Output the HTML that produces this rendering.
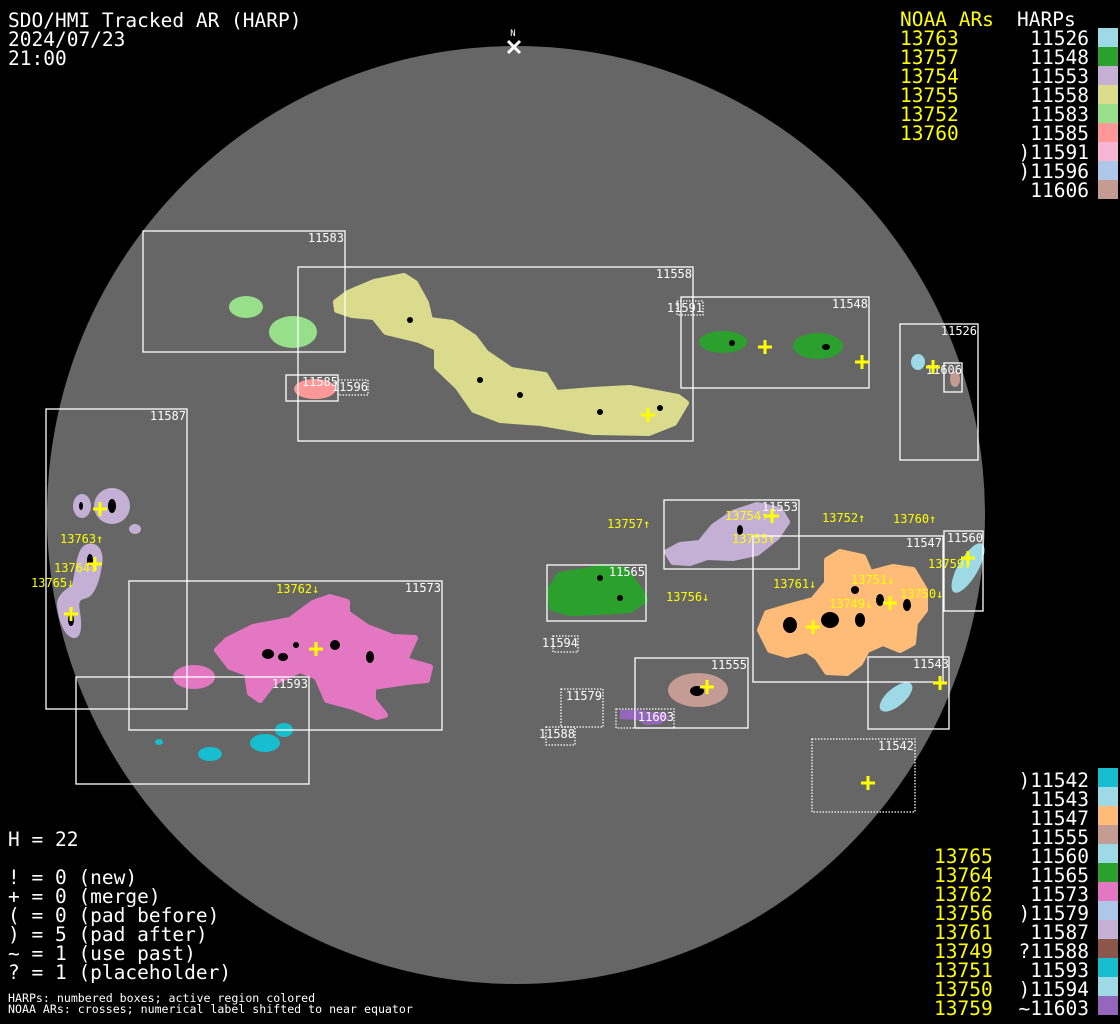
<!DOCTYPE html>
<html><head><meta charset="utf-8"><style>
html,body{margin:0;padding:0;background:#000;width:1120px;height:1024px;overflow:hidden}
svg{display:block}
.b{font-family:"DejaVu Sans Mono","Liberation Mono",monospace;font-size:19.5px;fill:#fff}
.y{fill:#ffff00}
.s{font-family:"DejaVu Sans Mono","Liberation Mono",monospace;font-size:12px;fill:#fff}
.sy{font-family:"DejaVu Sans Mono","Liberation Mono",monospace;font-size:12px;fill:#ffff00}
.n{font-family:"DejaVu Sans Mono","Liberation Mono",monospace;font-size:11.6px;fill:#fff}
.bx{fill:none;stroke:#fff;stroke-width:1.3}
.dt{fill:none;stroke:#fff;stroke-width:1.3;stroke-dasharray:1.5 1.5}
.cr{stroke:#ffff00;stroke-width:3;fill:none}
.r{stroke-width:6;stroke-linejoin:round}
</style></head><body>
<svg width="1120" height="1024" viewBox="0 0 1120 1024" xmlns="http://www.w3.org/2000/svg">
<rect width="1120" height="1024" fill="#000"/>
<circle cx="516" cy="515" r="469" fill="#666"/>

<g>
<ellipse cx="246" cy="307" rx="17" ry="11" fill="#98df8a"/>
<ellipse cx="293" cy="332" rx="24" ry="16" fill="#98df8a"/>
<path class="r" fill="#dbdb8d" stroke="#dbdb8d" d="M336,302 L348,293 L374,282 L404,276 L415,283 L426,303 L430,320 L452,323 L474,337 L486,353 L511,370 L545,375 L556,393 L593,390 L630,388 L678,397 L686,403 L674,423 L649,433 L593,432 L541,423 L500,420 L474,410 L458,387 L437,367 L437,348 L419,340 L386,332 L374,317 L352,315 L337,310 Z"/>
<ellipse cx="315" cy="389" rx="21" ry="10" fill="#ff9896"/>
<ellipse cx="723" cy="342" rx="24" ry="11" fill="#2ca02c"/>
<ellipse cx="818" cy="346" rx="25" ry="13" fill="#2ca02c"/>
<ellipse cx="918" cy="362" rx="7" ry="8" fill="#9edae5"/>
<ellipse cx="955" cy="379" rx="5" ry="8" fill="#c49c94"/>
<ellipse cx="82" cy="506" rx="9" ry="12" fill="#c5b0d5"/>
<ellipse cx="112" cy="506" rx="18" ry="18" fill="#c5b0d5"/>
<ellipse cx="135" cy="529" rx="6" ry="5" fill="#c5b0d5"/>
<path fill="#c5b0d5" d="M85,545 C95,540 105,548 102,565 C100,580 95,595 87,598 C80,600 78,600 80,612 C82,625 82,638 74,638 C65,638 58,620 57,605 C57,595 65,590 72,585 C76,570 76,550 85,545 Z"/>
<path class="r" fill="#e377c2" stroke="#e377c2" d="M217,650 L227,640 L253,627 L290,620 L313,603 L330,597 L347,602 L347,613 L367,627 L393,637 L415,638 L405,660 L430,667 L427,680 L407,682 L373,687 L373,700 L385,715 L377,717 L353,707 L327,700 L317,677 L300,670 L273,683 L260,700 L250,693 L247,673 L230,667 Z"/>
<ellipse cx="194" cy="677" rx="21" ry="12" fill="#e377c2"/>
<ellipse cx="159" cy="742" rx="4" ry="3" fill="#17becf"/>
<ellipse cx="210" cy="754" rx="12" ry="7" fill="#17becf"/>
<ellipse cx="265" cy="743" rx="15" ry="9" fill="#17becf"/>
<ellipse cx="284" cy="730" rx="9" ry="7" fill="#17becf"/>
<path class="r" fill="#c5b0d5" stroke="#c5b0d5" d="M667,552 L680,545 L700,543 L713,527 L733,513 L757,505 L780,510 L787,522 L777,537 L757,553 L733,558 L707,557 L690,563 L673,562 Z"/>
<path class="r" fill="#2ca02c" stroke="#2ca02c" d="M550,590 L560,575 L590,570 L600,567 L625,570 L640,590 L645,600 L630,610 L600,612 L570,613 L552,608 Z"/>
<path class="r" fill="#ffbb78" stroke="#ffbb78" d="M760,630 L767,613 L787,607 L813,600 L827,583 L827,560 L840,552 L863,557 L870,573 L893,567 L913,570 L925,590 L925,610 L915,623 L913,643 L900,650 L883,643 L867,650 L860,663 L847,673 L827,672 L817,657 L807,650 L787,655 L770,650 Z"/>
<ellipse cx="968" cy="568" rx="10" ry="28" transform="rotate(30 968 568)" fill="#9edae5"/>
<ellipse cx="698" cy="690" rx="30" ry="17" fill="#c49c94"/>
<path fill="#9467bd" d="M620,710 L640,710 L650,712 L665,712 L670,718 L660,724 L645,725 L638,720 L620,719 Z"/>
<ellipse cx="896" cy="697" rx="20" ry="9" transform="rotate(-40 896 697)" fill="#9edae5"/>
</g>
<g fill="#000">
<ellipse cx="81" cy="506" rx="2" ry="4"/><ellipse cx="112" cy="506" rx="4" ry="7"/>
<ellipse cx="90" cy="560" rx="3" ry="6"/><ellipse cx="71" cy="620" rx="3" ry="6"/>
<ellipse cx="268" cy="654" rx="6" ry="5"/><ellipse cx="283" cy="657" rx="5" ry="4"/><ellipse cx="335" cy="645" rx="5" ry="5"/><ellipse cx="370" cy="657" rx="4" ry="6"/><ellipse cx="296" cy="645" rx="3" ry="3"/>
<ellipse cx="790" cy="625" rx="7" ry="8"/><ellipse cx="830" cy="620" rx="9" ry="8"/><ellipse cx="860" cy="620" rx="5" ry="7"/><ellipse cx="880" cy="600" rx="4" ry="6"/><ellipse cx="907" cy="605" rx="4" ry="6"/><ellipse cx="855" cy="590" rx="4" ry="4"/>
<ellipse cx="697" cy="691" rx="7" ry="5"/>
<ellipse cx="732" cy="343" rx="3" ry="3"/><ellipse cx="826" cy="347" rx="4" ry="3"/>
<ellipse cx="410" cy="320" rx="3" ry="3"/><ellipse cx="480" cy="380" rx="3" ry="3"/><ellipse cx="600" cy="412" rx="3" ry="3"/><ellipse cx="660" cy="408" rx="3" ry="3"/><ellipse cx="520" cy="395" rx="3" ry="3"/>
<ellipse cx="740" cy="530" rx="3" ry="5"/><ellipse cx="600" cy="578" rx="3" ry="3"/><ellipse cx="620" cy="598" rx="3" ry="3"/>
</g>

<g>
<rect class="bx" x="143" y="231" width="202" height="121"/>
<rect class="bx" x="298" y="267" width="395" height="174"/>
<rect class="bx" x="681" y="297" width="188" height="91"/>
<rect class="dt" x="677" y="301" width="26" height="14"/>
<rect class="bx" x="900" y="324" width="78" height="136"/>
<rect class="bx" x="944" y="363" width="18" height="29"/>
<rect class="bx" x="286" y="375" width="52" height="26"/>
<rect class="dt" x="338" y="380" width="30" height="15"/>
<rect class="bx" x="46" y="409" width="141" height="300"/>
<rect class="bx" x="129" y="581" width="313" height="149"/>
<rect class="bx" x="76" y="677" width="233" height="107"/>
<rect class="bx" x="664" y="500" width="135" height="69"/>
<rect class="bx" x="753" y="536" width="190" height="146"/>
<rect class="bx" x="944" y="531" width="39" height="80"/>
<rect class="bx" x="547" y="565" width="99" height="56"/>
<rect class="dt" x="553" y="636" width="25" height="16"/>
<rect class="dt" x="561" y="689" width="42" height="38"/>
<rect class="dt" x="546" y="727" width="29" height="18"/>
<rect class="bx" x="635" y="658" width="113" height="70"/>
<rect class="dt" x="616" y="709" width="58" height="19"/>
<rect class="bx" x="868" y="657" width="81" height="72"/>
<rect class="dt" x="812" y="739" width="103" height="73"/>
</g>
<g class="s" text-anchor="end">
<text x="344" y="242">11583</text><text x="692" y="278">11558</text><text x="868" y="308">11548</text>
<text x="703" y="312">11591</text><text x="977" y="335">11526</text><text x="962" y="374">11606</text>
<text x="338" y="386">11585</text><text x="368" y="391">11596</text><text x="186" y="420">11587</text>
<text x="441" y="592">11573</text><text x="308" y="688">11593</text><text x="798" y="511">11553</text>
<text x="942" y="547">11547</text><text x="983" y="542">11560</text><text x="645" y="576">11565</text>
<text x="578" y="647">11594</text><text x="602" y="700">11579</text><text x="575" y="738">11588</text>
<text x="747" y="669">11555</text><text x="674" y="721">11603</text><text x="949" y="668">11543</text>
<text x="914" y="750">11542</text>
</g>
<g class="cr">
<path d="M93,509h14M100,502v14"/><path d="M88,564h14M95,557v14"/><path d="M64,614h14M71,607v14"/>
<path d="M309,649h14M316,642v14"/><path d="M758,347h14M765,340v14"/><path d="M855,362h14M862,355v14"/>
<path d="M926,367h14M933,360v14"/><path d="M641,415h14M648,408v14"/><path d="M765,516h14M772,509v14"/>
<path d="M961,558h14M968,551v14"/><path d="M883,603h14M890,596v14"/><path d="M806,627h14M813,620v14"/>
<path d="M700,687h14M707,680v14"/><path d="M933,683h14M940,676v14"/><path d="M861,783h14M868,776v14"/>
</g>
<g class="sy">
<text x="60" y="543">13763↑</text><text x="54" y="572">13764↓</text><text x="31" y="587">13765↓</text>
<text x="276" y="593">13762↓</text><text x="607" y="528">13757↑</text><text x="725" y="520">13754↑</text>
<text x="732" y="543">13755↑</text><text x="822" y="522">13752↑</text><text x="893" y="523">13760↑</text>
<text x="666" y="601">13756↓</text><text x="773" y="588">13761↓</text><text x="851" y="584">13751↓</text>
<text x="829" y="608">13749↓</text><text x="900" y="598">13750↓</text><text x="928" y="568">13759↓</text>
</g>
<text x="513" y="36" class="n" text-anchor="middle" style="font-size:9px">N</text>
<path d="M508,41l12,12M520,41l-12,12" stroke="#fff" stroke-width="3"/>

<g class="b">
<text x="8" y="27">SDO/HMI Tracked AR (HARP)</text>
<text x="8" y="46">2024/07/23</text>
<text x="8" y="65">21:00</text>
<text x="900" y="26" class="y">NOAA ARs</text>
<text x="1017" y="26">HARPs</text>
</g>
<g class="b y">
<text x="900" y="45">13763</text><text x="900" y="64">13757</text><text x="900" y="83">13754</text>
<text x="900" y="102">13755</text><text x="900" y="121">13752</text><text x="900" y="140">13760</text>
</g>
<g class="b" text-anchor="end">
<text x="1089" y="45">11526</text><text x="1089" y="64">11548</text><text x="1089" y="83">11553</text>
<text x="1089" y="102">11558</text><text x="1089" y="121">11583</text><text x="1089" y="140">11585</text>
<text x="1089" y="159">)11591</text><text x="1089" y="178">)11596</text><text x="1089" y="197">11606</text>
</g>
<g>
<rect x="1098" y="28" width="20" height="19" fill="#9edae5"/><rect x="1098" y="47" width="20" height="19" fill="#2ca02c"/>
<rect x="1098" y="66" width="20" height="19" fill="#c5b0d5"/><rect x="1098" y="85" width="20" height="19" fill="#dbdb8d"/>
<rect x="1098" y="104" width="20" height="19" fill="#98df8a"/><rect x="1098" y="123" width="20" height="19" fill="#ff9896"/>
<rect x="1098" y="142" width="20" height="19" fill="#f7b6d2"/><rect x="1098" y="161" width="20" height="19" fill="#aec7e8"/>
<rect x="1098" y="180" width="20" height="19" fill="#c49c94"/>
</g>
<g class="b" text-anchor="end">
<text x="1089" y="787">)11542</text><text x="1089" y="806">11543</text><text x="1089" y="825">11547</text>
<text x="1089" y="844">11555</text><text x="1089" y="863">11560</text><text x="1089" y="882">11565</text>
<text x="1089" y="901">11573</text><text x="1089" y="920">)11579</text><text x="1089" y="939">11587</text>
<text x="1089" y="958">?11588</text><text x="1089" y="977">11593</text><text x="1089" y="996">)11594</text>
<text x="1089" y="1015">~11603</text>
</g>
<g class="b y">
<text x="934" y="863">13765</text><text x="934" y="882">13764</text><text x="934" y="901">13762</text>
<text x="934" y="920">13756</text><text x="934" y="939">13761</text><text x="934" y="958">13749</text>
<text x="934" y="977">13751</text><text x="934" y="996">13750</text><text x="934" y="1015">13759</text>
</g>
<g>
<rect x="1098" y="768" width="20" height="19" fill="#17becf"/><rect x="1098" y="787" width="20" height="19" fill="#9edae5"/>
<rect x="1098" y="806" width="20" height="19" fill="#ffbb78"/><rect x="1098" y="825" width="20" height="19" fill="#c49c94"/>
<rect x="1098" y="844" width="20" height="19" fill="#9edae5"/><rect x="1098" y="863" width="20" height="19" fill="#2ca02c"/>
<rect x="1098" y="882" width="20" height="19" fill="#e377c2"/><rect x="1098" y="901" width="20" height="19" fill="#aec7e8"/>
<rect x="1098" y="920" width="20" height="19" fill="#c5b0d5"/><rect x="1098" y="939" width="20" height="19" fill="#8c564b"/>
<rect x="1098" y="958" width="20" height="19" fill="#17becf"/><rect x="1098" y="977" width="20" height="19" fill="#9edae5"/>
<rect x="1098" y="996" width="20" height="19" fill="#9467bd"/>
</g>
<g class="b">
<text x="8" y="846">H = 22</text>
<text x="8" y="884">! = 0 (new)</text>
<text x="8" y="903">+ = 0 (merge)</text>
<text x="8" y="922">( = 0 (pad before)</text>
<text x="8" y="941">) = 5 (pad after)</text>
<text x="8" y="960">~ = 1 (use past)</text>
<text x="8" y="979">? = 1 (placeholder)</text>
</g>
<g class="n">
<text x="8" y="1002">HARPs: numbered boxes; active region colored</text>
<text x="8" y="1013">NOAA ARs: crosses; numerical label shifted to near equator</text>
</g>
</svg>
</body></html>
